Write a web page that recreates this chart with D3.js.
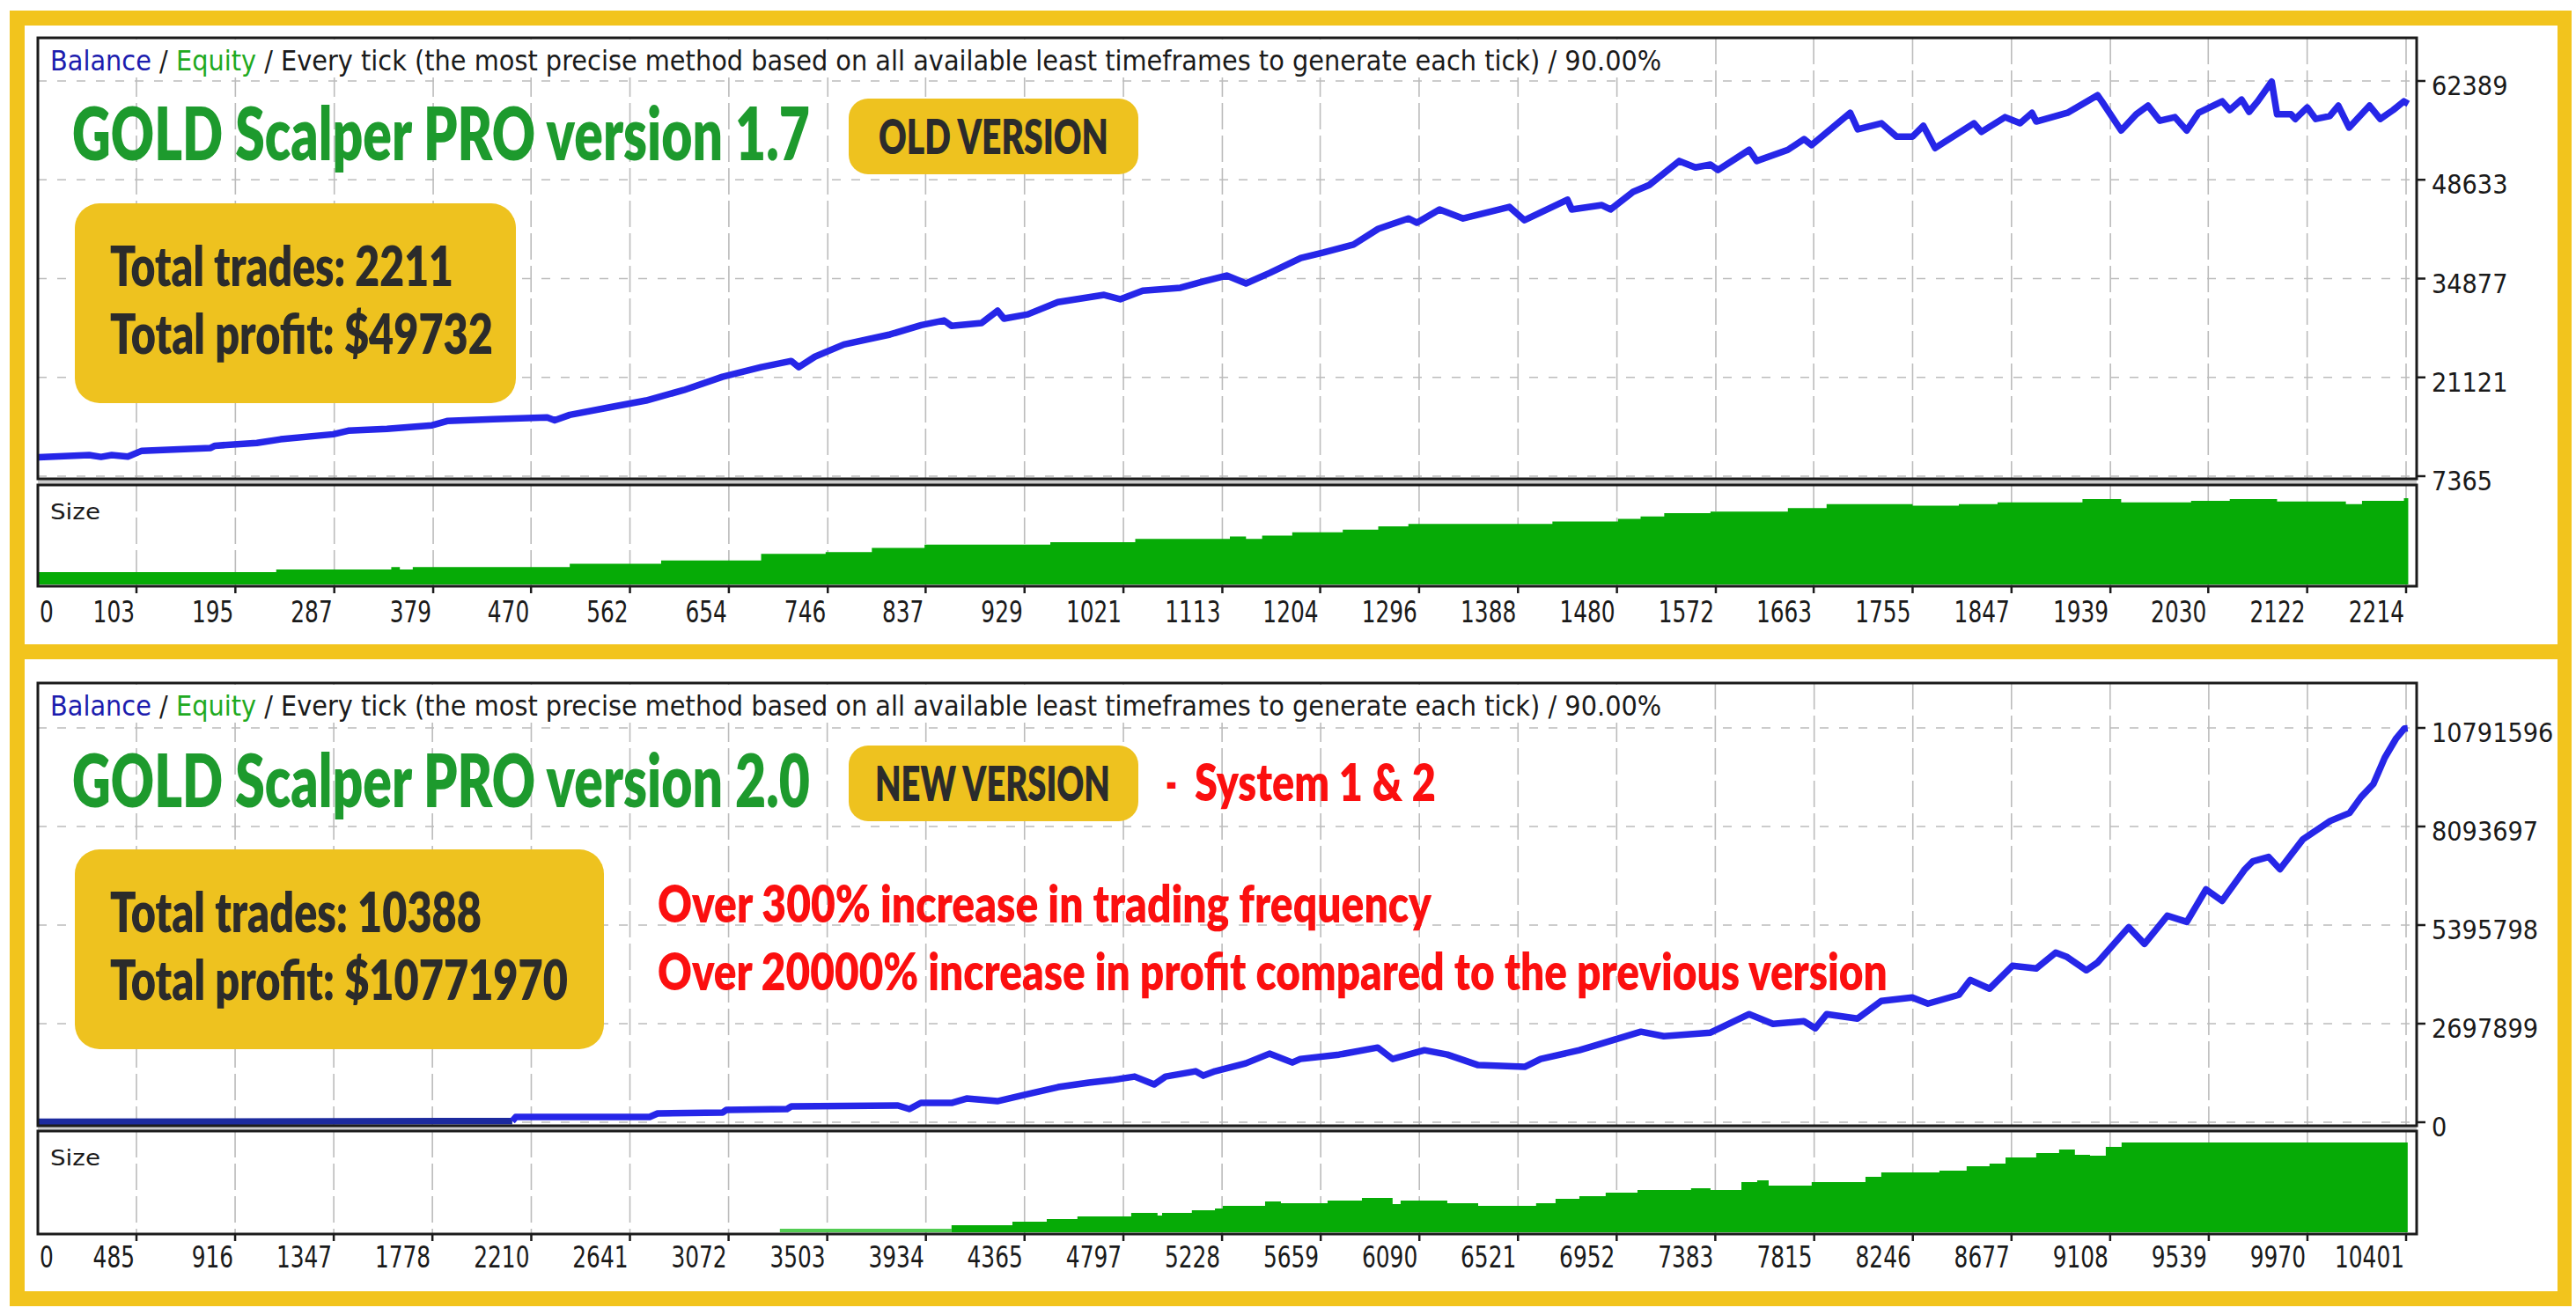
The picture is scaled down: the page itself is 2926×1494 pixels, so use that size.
<!DOCTYPE html>
<html>
<head>
<meta charset="utf-8">
<script src="https://cdn.jsdelivr.net/npm/d3@7"></script>
<style>
  html, body { margin: 0; padding: 0; background: #fff; overflow: hidden; }
</style>
</head>
<body>
<div id="chart"></div>
<script>
// Two MT4 strategy-tester reports stacked: v1.7 (old) above, v2.0 (new) below.
// Balance curve on top, lot size ("Size") strip below, trade index on x.

// ---- data: version 1.7 ----
const oldTicksX = [0, 103, 195, 287, 379, 470, 562, 654, 746, 837, 929, 1021, 1113, 1204,
  1296, 1388, 1480, 1572, 1663, 1755, 1847, 1939, 2030, 2122, 2214];
const oldTicksY = [7365, 21121, 34877, 48633, 62389];
// [trade #, balance $]
const oldBalance = [
  [12, 10000], [59, 10300], [70, 10050], [80, 10300], [95, 10100], [108, 10900], [172, 11300],
  [176, 11600], [215, 12000], [237, 12500], [286, 13200], [300, 13700], [336, 13950], [378, 14450],
  [392, 15050], [435, 15300], [485, 15550], [492, 15150], [506, 15900], [541, 16900], [577, 17900],
  [612, 19350], [648, 21200], [684, 22550], [712, 23400], [719, 22550], [734, 24000], [761, 25700],
  [804, 27100], [833, 28400], [854, 29050], [861, 28300], [889, 28700], [904, 30400], [910, 29300],
  [932, 29900], [960, 31600], [1003, 32600], [1018, 32000], [1039, 33200], [1074, 33600],
  [1095, 34450], [1117, 35300], [1135, 34200], [1157, 35650], [1186, 37750], [1207, 38500],
  [1235, 39600], [1258, 41800], [1286, 43250], [1294, 42650], [1315, 44500], [1337, 43250],
  [1380, 44850], [1394, 43000], [1434, 45850], [1438, 44500], [1466, 45100], [1474, 44500],
  [1495, 46950], [1510, 47900], [1538, 51250], [1553, 50350], [1567, 50750], [1574, 50000],
  [1603, 52800], [1610, 51250], [1639, 52800], [1654, 54300], [1661, 53450], [1697, 57950],
  [1704, 55650], [1726, 56500], [1740, 54650], [1755, 54650], [1765, 56150], [1776, 53050],
  [1812, 56500], [1819, 55300], [1841, 57350], [1855, 56500], [1866, 57950], [1870, 56750],
  [1899, 57950], [1927, 60400], [1931, 59550], [1949, 55500], [1963, 57750], [1974, 58950],
  [1985, 56850], [1999, 57350], [2010, 55500], [2021, 57950], [2043, 59550], [2050, 58350],
  [2061, 59800], [2068, 58100], [2076, 59550], [2089, 62300], [2094, 57750], [2107, 57750],
  [2111, 57100], [2122, 58700], [2130, 57100], [2143, 57500], [2151, 58950], [2161, 55900],
  [2180, 58950], [2190, 57100], [2202, 58350], [2212, 59550], [2216, 59200]
];
// [trade #, lots]
const oldSize = [
  [12, 0.15], [233, 0.18], [340, 0.21], [348, 0.18], [360, 0.21], [506, 0.25], [591, 0.29],
  [684, 0.37], [744, 0.39], [787, 0.44], [836, 0.48], [953, 0.51], [1032, 0.55], [1120, 0.58],
  [1135, 0.55], [1150, 0.59], [1178, 0.63], [1225, 0.66], [1258, 0.70], [1286, 0.73],
  [1420, 0.76], [1481, 0.79], [1502, 0.82], [1524, 0.86], [1567, 0.88], [1639, 0.92],
  [1675, 0.97], [1755, 0.95], [1798, 0.97], [1834, 0.99], [1913, 1.03], [1949, 0.99],
  [2014, 1.01], [2050, 1.03], [2094, 1.00], [2158, 0.97], [2173, 1.01], [2212, 1.04], [2216, 1.04]
];

// ---- data: version 2.0 ----
const newTicksX = [0, 485, 916, 1347, 1778, 2210, 2641, 3072, 3503, 3934, 4365, 4797, 5228,
  5659, 6090, 6521, 6952, 7383, 7815, 8246, 8677, 9108, 9539, 9970, 10401];
const newTicksY = [0, 2697899, 5395798, 8093697, 10791596];
const newBalance = [
  [58, 10000], [2127, 30000], [2142, 144000], [2727, 144000], [2762, 240000], [3046, 264000],
  [3062, 337000], [3327, 361000], [3346, 433000], [3812, 457000], [3862, 361000], [3912, 529000],
  [4046, 529000], [4112, 649000], [4246, 577000], [4377, 769000], [4512, 962000], [4646, 1082000],
  [4746, 1154000], [4846, 1250000], [4931, 1034000], [4981, 1250000], [5112, 1395000],
  [5146, 1274000], [5197, 1395000], [5331, 1611000], [5435, 1876000], [5535, 1635000],
  [5570, 1731000], [5739, 1851000], [5908, 2044000], [5973, 1731000], [6112, 1972000],
  [6212, 1851000], [6347, 1563000], [6550, 1515000], [6620, 1731000], [6789, 1972000],
  [6854, 2092000], [7058, 2477000], [7158, 2356000], [7362, 2453000], [7531, 2958000],
  [7635, 2693000], [7770, 2765000], [7820, 2573000], [7870, 2958000], [8004, 2837000],
  [8108, 3318000], [8243, 3414000], [8312, 3246000], [8447, 3487000], [8497, 3895000],
  [8581, 3655000], [8681, 4280000], [8785, 4208000], [8870, 4641000], [8920, 4520000],
  [9004, 4160000], [9054, 4376000], [9189, 5338000], [9258, 4881000], [9358, 5651000],
  [9443, 5482000], [9527, 6372000], [9597, 6059000], [9697, 6925000], [9731, 7141000],
  [9800, 7262000], [9850, 6925000], [9950, 7742000], [10070, 8247000], [10154, 8464000],
  [10204, 8897000], [10258, 9257000], [10308, 9979000], [10358, 10508000], [10393, 10772000],
  [10408, 10781970]
];
const newBalanceDarkUntil = 2127;   // first flat stretch is drawn darker
const newSize = [
  [3296, 0.4], [4046, 0.8], [4312, 1.2], [4462, 1.5], [4596, 1.8], [4831, 2.2], [4946, 1.9],
  [4966, 2.2], [5096, 2.5], [5197, 2.7], [5231, 3.0], [5416, 3.5], [5485, 3.3], [5689, 3.6],
  [5839, 3.9], [5973, 3.2], [6008, 3.6], [6212, 3.3], [6347, 3.0], [6600, 3.3], [6685, 3.8],
  [6789, 4.1], [6904, 4.5], [7043, 4.8], [7277, 5.0], [7362, 4.8], [7497, 5.7], [7566, 5.9],
  [7616, 5.3], [7804, 5.7], [8039, 6.3], [8108, 6.8], [8362, 7.0], [8481, 7.5], [8581, 7.8],
  [8651, 8.5], [8785, 9.0], [8885, 9.4], [8954, 8.8], [9020, 8.7], [9089, 9.7], [9158, 10.2],
  [10408, 10.2]
];
const newSizeLightUntil = 4046;     // first small-lot stretch is lighter green

const HEADER = ['Balance', 'Equity',
  'Every tick (the most precise method based on all available least timeframes to generate each tick) / 90.00%'];

const PALETTE = {
  frameYellow: '#f2c41d',
  box: '#eec21f',
  boxText: '#2b2b2b',
  title: '#1d9a2d',
  red: '#fb0f0f',
  line: '#2626e8',
  lineDark: '#1c2a9e',
  size: '#06ab06',
  sizeLight: '#52cc52',
  grid: '#bcbcbc',
  frame: '#1b1b1b',
  band: '#cdcdcd',
  ink: '#1a1a1a',
  balance: '#1c1cae',
  equity: '#1faa1f'
};

const W = 2926, H = 1494;
const L = 43, R = 2745;           // chart frame left/right
const GX0 = 155, GX1 = 2733;      // first and last labelled grid line

const svg = d3.select('#chart').append('svg')
  .attr('width', W).attr('height', H)
  .attr('viewBox', `0 0 ${W} ${H}`);

// yellow frame with two white panels
svg.append('rect').attr('x', 11).attr('y', 12).attr('width', 2910).attr('height', 1472)
  .attr('fill', PALETTE.frameYellow);
svg.append('rect').attr('x', 28).attr('y', 29).attr('width', 2877).attr('height', 703).attr('fill', '#fff');
svg.append('rect').attr('x', 28).attr('y', 749).attr('width', 2877).attr('height', 718).attr('fill', '#fff');

const MONO = "'DejaVu Sans', Verdana, sans-serif";
const BOLD = "Lato, 'Open Sans', sans-serif";
const HEAVY = 800;

// squeeze a text horizontally to a given width (the fonts in the picture are condensed)
function fit(sel, x, y, w) {
  sel.attr('x', 0).attr('y', 0).each(function () {
    const natural = this.getComputedTextLength() || w;
    d3.select(this).attr('transform', `translate(${x},${y}) scale(${w / natural},1)`);
  });
  return sel;
}

function drawPanel(p) {
  const g = svg.append('g');
  const x = d3.scaleLinear()
    .domain([p.ticksX[1], p.ticksX[p.ticksX.length - 1]]).range([GX0, GX1]);
  const y = d3.scaleLinear()
    .domain([p.ticksY[0], p.ticksY[p.ticksY.length - 1]]).range([p.gridBottom, p.gridTop]);
  const ys = d3.scaleLinear().domain([0, p.sizeMax]).range([p.sizeBottom - 2, p.sizeTop]);

  const vx = p.ticksX.filter(v => v !== 0);

  // vertical grid, main + size strip
  [[p.top, p.mainBottom], [p.sizeTop, p.sizeBottom]].forEach(([y1, y2]) => {
    g.selectAll(null).data(vx).enter().append('line')
      .attr('x1', d => x(d)).attr('x2', d => x(d))
      .attr('y1', y1).attr('y2', y2)
      .attr('stroke', PALETTE.grid).attr('stroke-width', 1.6)
      .attr('stroke-dasharray', '30,7');
  });

  // header strip hides the grid behind the text
  g.append('rect').attr('x', L + 2).attr('y', p.top + 2).attr('width', 1852).attr('height', 43)
    .attr('fill', '#fff');

  // horizontal grid
  g.selectAll(null).data(p.ticksY).enter().append('line')
    .attr('x1', L).attr('x2', R)
    .attr('y1', d => y(d)).attr('y2', d => y(d))
    .attr('stroke', PALETTE.grid).attr('stroke-width', 1.6)
    .attr('stroke-dasharray', '10,12');

  // header text
  const ht = g.append('text')
    .attr('font-family', MONO).attr('font-size', 32)
    .attr('fill', PALETTE.ink);
  ht.append('tspan').attr('fill', PALETTE.balance).text(HEADER[0]);
  ht.append('tspan').text(' / ');
  ht.append('tspan').attr('fill', PALETTE.equity).text(HEADER[1]);
  ht.append('tspan').text(' / ' + HEADER[2]);
  fit(ht, 57, p.top + 37, 1831);

  // size strip
  const area = d3.area()
    .x(d => x(d[0])).y0(ys(0)).y1(d => ys(d[1]))
    .curve(d3.curveStepAfter);
  if (p.lightUntil != null) {
    g.append('path').datum(p.size.filter(d => d[0] <= p.lightUntil))
      .attr('d', area).attr('fill', PALETTE.sizeLight);
    g.append('path').datum(p.size.filter(d => d[0] >= p.lightUntil))
      .attr('d', area).attr('fill', PALETTE.size);
  } else {
    g.append('path').datum(p.size).attr('d', area).attr('fill', PALETTE.size);
  }

  fit(g.append('text')
    .attr('font-family', MONO).attr('font-size', 25)
    .attr('fill', PALETTE.ink).text('Size'), 57, p.sizeTop + 39, 57);

  // balance curve
  const line = d3.line().x(d => x(d[0])).y(d => y(d[1]));
  const segs = p.darkUntil != null
    ? [[p.balance.filter(d => d[0] <= p.darkUntil), PALETTE.lineDark],
       [p.balance.filter(d => d[0] >= p.darkUntil), PALETTE.line]]
    : [[p.balance, PALETTE.line]];
  segs.forEach(([pts, col]) => {
    g.append('path').datum(pts)
      .attr('d', line).attr('fill', 'none')
      .attr('stroke', col).attr('stroke-width', 7.5)
      .attr('stroke-linejoin', 'round');
  });

  // frames
  g.append('rect').attr('x', L).attr('y', p.mainBottom).attr('width', R - L)
    .attr('height', p.sizeTop - p.mainBottom).attr('fill', PALETTE.band);
  g.append('rect').attr('x', L).attr('y', p.top).attr('width', R - L)
    .attr('height', p.mainBottom - p.top)
    .attr('fill', 'none').attr('stroke', PALETTE.frame).attr('stroke-width', 3);
  g.append('rect').attr('x', L).attr('y', p.sizeTop).attr('width', R - L)
    .attr('height', p.sizeBottom - p.sizeTop)
    .attr('fill', 'none').attr('stroke', PALETTE.frame).attr('stroke-width', 3);

  // right axis
  g.selectAll(null).data(p.ticksY).enter().append('line')
    .attr('x1', R).attr('x2', R + 10)
    .attr('y1', d => y(d)).attr('y2', d => y(d))
    .attr('stroke', PALETTE.frame).attr('stroke-width', 2.5);
  p.ticksY.forEach(v => {
    fit(g.append('text')
      .attr('font-family', MONO).attr('font-size', 30)
      .attr('fill', PALETTE.ink).text(v), 2762, y(v) + 16, String(v).length * 17.3);
  });

  // bottom axis
  g.selectAll(null).data(vx).enter().append('line')
    .attr('x1', d => x(d)).attr('x2', d => x(d))
    .attr('y1', p.sizeBottom).attr('y2', p.sizeBottom + 8)
    .attr('stroke', PALETTE.frame).attr('stroke-width', 2.5);
  p.ticksX.forEach(v => {
    fit(g.append('text')
      .attr('text-anchor', v === 0 ? 'start' : 'end')
      .attr('font-family', MONO).attr('font-size', 34)
      .attr('fill', PALETTE.ink).text(v),
      v === 0 ? L + 2 : x(v) - 2, p.labelY, String(v).length * 15.8);
  });

  // annotations
  const n = p.notes;
  fit(g.append('text')
    .attr('font-family', BOLD).attr('font-weight', HEAVY).attr('font-size', 83)
    .attr('fill', PALETTE.title).text(n.title), 82, n.titleY, 838);

  g.append('rect').attr('x', 964).attr('y', n.badgeY).attr('width', 329).attr('height', 86)
    .attr('rx', 22).attr('fill', PALETTE.box);
  fit(g.append('text')
    .attr('font-family', BOLD).attr('font-weight', HEAVY).attr('font-size', 55)
    .attr('fill', PALETTE.boxText).text(n.badge), n.badgeX, n.badgeY + 63, n.badgeW);

  g.append('rect').attr('x', 85).attr('y', n.boxY).attr('width', n.boxW).attr('height', 227)
    .attr('rx', 28).attr('fill', PALETTE.box);
  n.stats.forEach((s, i) => {
    fit(g.append('text')
      .attr('font-family', BOLD).attr('font-weight', HEAVY).attr('font-size', 63)
      .attr('fill', PALETTE.boxText).text(s.t), 125, n.boxY + 94 + i * 77, s.w);
  });

  (n.red || []).forEach(r => {
    fit(g.append('text')
      .attr('font-family', BOLD).attr('font-weight', HEAVY).attr('font-size', r.fs)
      .attr('fill', PALETTE.red).text(r.t), r.x, r.y, r.w);
  });
}

drawPanel({
  ticksX: oldTicksX, ticksY: oldTicksY, balance: oldBalance, size: oldSize,
  sizeMax: 1.2, darkUntil: null, lightUntil: null,
  top: 43, mainBottom: 544, sizeTop: 551, sizeBottom: 666,
  gridTop: 92, gridBottom: 541, labelY: 707,
  notes: {
    title: 'GOLD Scalper PRO version 1.7', titleY: 182,
    badge: 'OLD VERSION', badgeX: 998, badgeW: 261, badgeY: 112,
    boxY: 231, boxW: 501,
    stats: [{ t: 'Total trades: 2211', w: 390 }, { t: 'Total profit: $49732', w: 435 }]
  }
});

drawPanel({
  ticksX: newTicksX, ticksY: newTicksY, balance: newBalance, size: newSize,
  sizeMax: 11.5, darkUntil: newBalanceDarkUntil, lightUntil: newSizeLightUntil,
  top: 776, mainBottom: 1279, sizeTop: 1285, sizeBottom: 1402,
  gridTop: 827, gridBottom: 1275, labelY: 1440,
  notes: {
    title: 'GOLD Scalper PRO version 2.0', titleY: 917,
    badge: 'NEW VERSION', badgeX: 994, badgeW: 267, badgeY: 847,
    boxY: 965, boxW: 601,
    stats: [{ t: 'Total trades: 10388', w: 422 }, { t: 'Total profit: $10771970', w: 520 }],
    red: [
      { t: '-', x: 1324, y: 910, w: 13, fs: 59 },
      { t: 'System 1 & 2', x: 1357, y: 910, w: 274, fs: 59 },
      { t: 'Over 300% increase in trading frequency', x: 747, y: 1048, w: 879, fs: 58 },
      { t: 'Over 20000% increase in profit compared to the previous version', x: 747, y: 1125, w: 1397, fs: 58 }
    ]
  }
});
</script>
</body>
</html>
